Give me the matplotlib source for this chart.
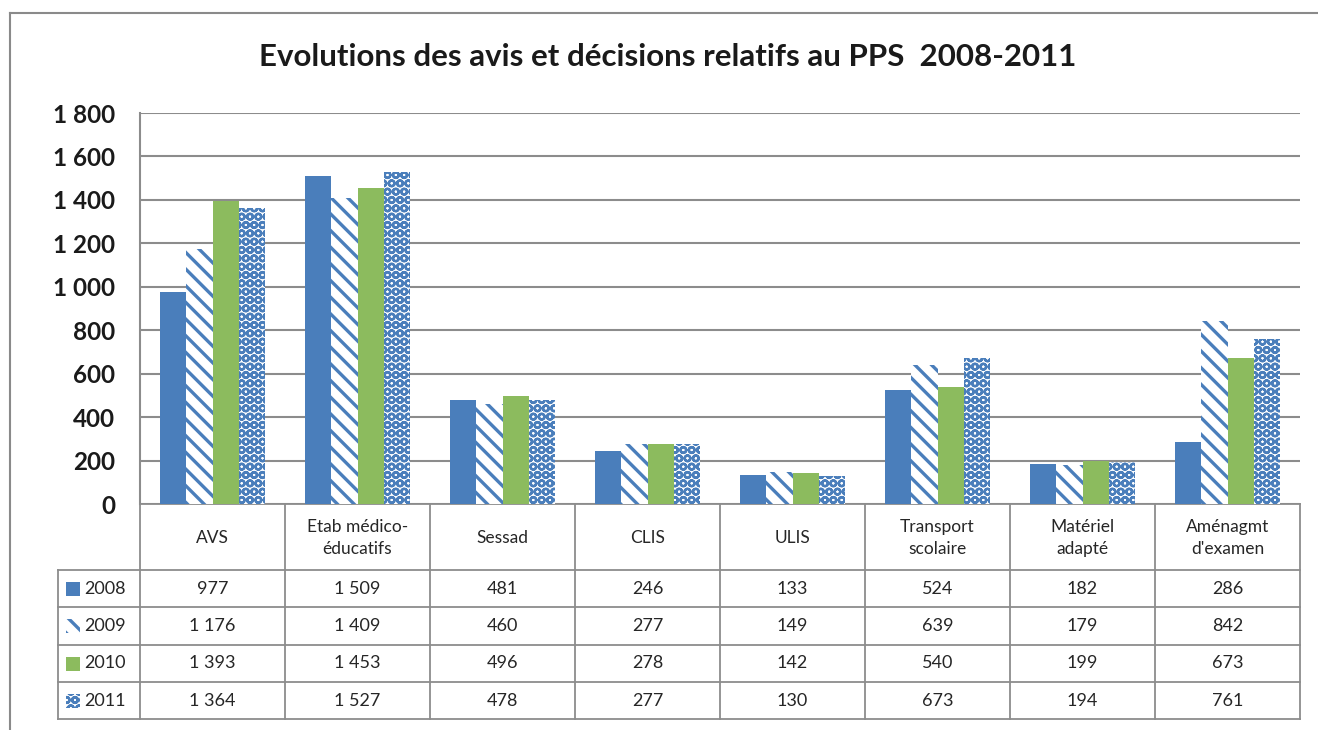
import matplotlib
matplotlib.use("Agg")
import matplotlib.pyplot as plt
from matplotlib.patches import Rectangle

categories = ["AVS", "Etab médico-\néducatifs", "Sessad", "CLIS", "ULIS",
              "Transport\nscolaire", "Matériel\nadapté", "Aménagmt\nd'examen"]
years = ["2008", "2009", "2010", "2011"]
v2008 = [977, 1509, 481, 246, 133, 524, 182, 286]
v2009 = [1176, 1409, 460, 277, 149, 639, 179, 842]
v2010 = [1393, 1453, 496, 278, 142, 540, 199, 673]
v2011 = [1364, 1527, 478, 277, 130, 673, 194, 761]
series = [v2008, v2009, v2010, v2011]
yticks = [0, 200, 400, 600, 800, 1000, 1200, 1400, 1600, 1800]

BLUE = "#4a7ebb"
GREEN = "#8cbb5e"
GRID = "#8c8c8c"
FONT = "Lato"

styles = [
    dict(facecolor=BLUE, edgecolor=BLUE, hatch=None, hlw=None),
    dict(facecolor="white", edgecolor=BLUE, hatch="\\\\", hlw=2.4),
    dict(facecolor=GREEN, edgecolor=GREEN, hatch=None, hlw=None),
    dict(facecolor="white", edgecolor=BLUE, hatch="OO", hlw=1.7),
]

W, H = 1318, 730
fig = plt.figure(figsize=(W / 100, H / 100), dpi=100)

def fx(x):
    return x / W

def fy(y):
    return 1 - y / H

ov = fig.add_axes([0, 0, 1, 1], zorder=0)
ov.set_xlim(0, W)
ov.set_ylim(H, 0)
ov.axis("off")

ov.plot([10, 10], [13, H], color="#8a8a8a", lw=1.5)
ov.plot([10, W], [13, 13], color="#8a8a8a", lw=1.5)

ov.text(668, 57, "Evolutions des avis et décisions relatifs au PPS  2008-2011",
        ha="center", va="center", fontsize=22.5, family=FONT,
        fontweight="bold", color="#1a1a1a")

L, R, T, B = 140, 1300, 113, 504
ax = fig.add_axes([fx(L), fy(B), (R - L) / W, (B - T) / H], zorder=2)
ax.patch.set_alpha(0)
ax.set_xlim(0, len(categories))
ax.set_ylim(0, 1800)

bw = 0.18
for k, (vals, st) in enumerate(zip(series, styles)):
    xs = [i + 0.5 + (k - 1.5) * bw for i in range(len(categories))]
    bars = ax.bar(xs, vals, width=bw, facecolor=st["facecolor"],
                  edgecolor=st["edgecolor"], hatch=st["hatch"], linewidth=0,
                  zorder=3)
    if st["hlw"] is not None:
        for b in bars:
            if hasattr(b, "set_hatch_linewidth"):
                b.set_hatch_linewidth(st["hlw"])

ax.set_yticks(yticks)
ax.set_yticklabels([f"{v:,}".replace(",", " ") for v in yticks],
                   fontsize=17.5, family=FONT, fontweight="bold", color="#1a1a1a")
ax.tick_params(axis="y", length=0, pad=18)
ax.set_xticks([])
ax.yaxis.grid(True, color=GRID, lw=1.5, zorder=0)
for s in ["top", "right", "bottom"]:
    ax.spines[s].set_visible(False)
ax.spines["left"].set_color(GRID)
ax.spines["left"].set_linewidth(1.5)

colw = (R - L) / len(categories)
hdr_top, hdr_bot = B, 570
row_edges = [570, 607, 645, 682, 719]
leg_left = 58
lc = "#8c8c8c"
tlw = 1.3

ov.plot([L, R], [hdr_top, hdr_top], color=lc, lw=tlw)
for y in row_edges:
    ov.plot([leg_left, R], [y, y], color=lc, lw=tlw)
for i in range(len(categories) + 1):
    x = L + i * colw
    ov.plot([x, x], [hdr_top, row_edges[-1]], color=lc, lw=tlw)
ov.plot([leg_left, leg_left], [row_edges[0], row_edges[-1]], color=lc, lw=tlw)

for i, c in enumerate(categories):
    cx = L + (i + 0.5) * colw
    ov.text(cx, (hdr_top + hdr_bot) / 2 + 1, c, ha="center", va="center",
            fontsize=12.5, family=FONT, color="#262626", linespacing=1.45)

for r, (yr, vals, st) in enumerate(zip(years, series, styles)):
    cy = (row_edges[r] + row_edges[r + 1]) / 2
    key = Rectangle((66, cy - 7), 14, 14, facecolor=st["facecolor"],
                    edgecolor=st["edgecolor"], hatch=st["hatch"], linewidth=0)
    if st["hlw"] is not None and hasattr(key, "set_hatch_linewidth"):
        key.set_hatch_linewidth(st["hlw"])
    ov.add_patch(key)
    ov.text(84, cy, yr, ha="left", va="center", fontsize=13, family=FONT,
            color="#262626")
    for i, v in enumerate(vals):
        cx = L + (i + 0.5) * colw
        ov.text(cx, cy, f"{v:,}".replace(",", " "), ha="center", va="center",
                fontsize=13, family=FONT, color="#262626")

fig.savefig("out.png", dpi=100)
